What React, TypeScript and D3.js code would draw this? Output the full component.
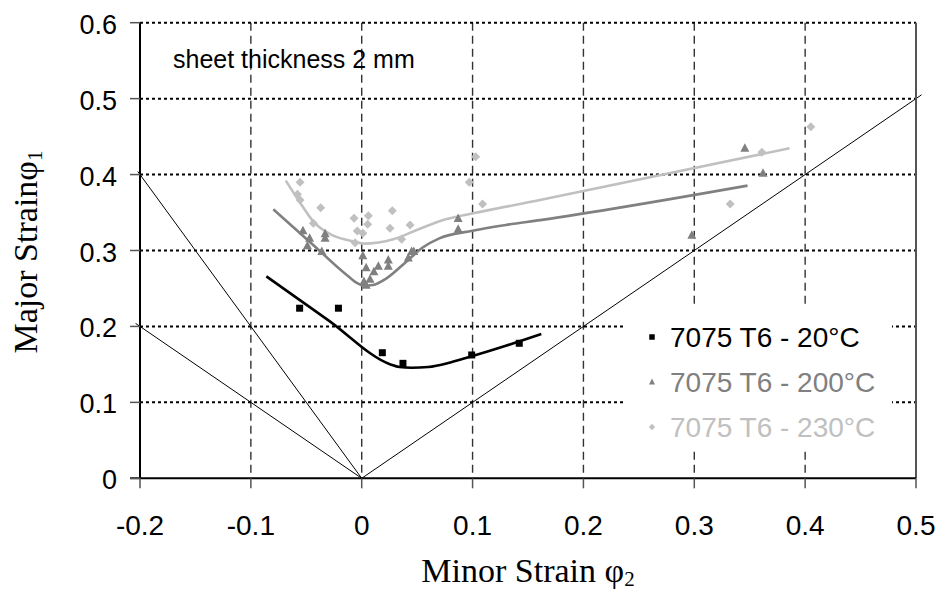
import React from "react";
import * as d3 from "d3";

const xTicks = [-0.2, -0.1, 0, 0.1, 0.2, 0.3, 0.4, 0.5];
const yTicks = [0, 0.1, 0.2, 0.3, 0.4, 0.5, 0.6];
const xTickLabels = ["-0.2", "-0.1", "0", "0.1", "0.2", "0.3", "0.4", "0.5"];
const yTickLabels = ["0", "0.1", "0.2", "0.3", "0.4", "0.5", "0.6"];

const seriesNames = ["7075 T6 - 20°C", "7075 T6 - 200°C", "7075 T6 - 230°C"];

// measured points [minor strain, major strain]
const pts20: [number, number][] = [
  [-0.056, 0.224], [-0.021, 0.224], [0.0186, 0.1654], [0.0372, 0.1514], [0.0992, 0.1624], [0.1421, 0.1778],
];
const pts200: [number, number][] = [
  [-0.053, 0.326], [-0.047, 0.316], [-0.049, 0.306], [-0.033, 0.322], [-0.033, 0.316], [-0.036, 0.2985],
  [0.001, 0.293], [0.004, 0.277], [0.002, 0.259], [0.004, 0.254], [0.0075, 0.262], [0.011, 0.272],
  [0.015, 0.279], [0.024, 0.2875], [0.024, 0.279], [0.042, 0.29], [0.045, 0.2985], [0.047, 0.2985],
  [0.087, 0.342], [0.087, 0.328], [0.2978, 0.32], [0.3456, 0.4346], [0.362, 0.4017],
];
const pts230: [number, number][] = [
  [-0.0556, 0.39], [-0.058, 0.374], [-0.0556, 0.3665], [-0.037, 0.3564], [-0.0436, 0.3358], [-0.0069, 0.3424],
  [-0.004, 0.3257], [0.001, 0.3227], [-0.006, 0.3103], [0.006, 0.3459], [0.0054, 0.3345], [0.0276, 0.3525],
  [0.0255, 0.3292], [0.036, 0.3148], [0.0436, 0.3336], [0.097, 0.3898], [0.1028, 0.4236], [0.109, 0.3613],
  [0.3324, 0.3613], [0.361, 0.4293], [0.4051, 0.463],
];

// forming limit curves
const curve20: [number, number][] = [
  [-0.086, 0.266], [-0.03, 0.208], [0.026, 0.15], [0.034, 0.1465], [0.045, 0.1455], [0.06, 0.1465],
  [0.08, 0.1525], [0.1, 0.161], [0.13, 0.1745], [0.162, 0.19],
];
const curve200: [number, number][] = [
  [-0.0797, 0.3543], [-0.045, 0.309], [-0.0135, 0.2677], [-0.004, 0.257], [0.002, 0.2535], [0.01, 0.2545],
  [0.022, 0.263], [0.04, 0.285], [0.055, 0.304], [0.07, 0.316], [0.1, 0.326], [0.13, 0.3336],
  [0.161, 0.34], [0.348, 0.3854],
];
const curve230: [number, number][] = [
  [-0.0685, 0.392], [-0.0556, 0.363], [-0.0436, 0.338], [-0.0256, 0.3195], [-0.006, 0.3116], [0.002, 0.309],
  [0.0285, 0.3148], [0.0496, 0.327], [0.0766, 0.3415], [0.1006, 0.349], [0.1608, 0.3665], [0.386, 0.4346],
];

// strain path reference lines
const refLines: [number, number][][] = [
  [[0, 0], [0.505, 0.505]],
  [[0, 0], [-0.202, 0.404]],
  [[0, 0], [-0.204, 0.204]],
];

const W = 941;
const H = 592;
const x = d3.scaleLinear().domain([-0.2, 0.5]).range([140, 916]);
const y = d3.scaleLinear().domain([0, 0.6]).range([478.3, 22.7]);

const SANS = "'Liberation Sans', Arial, sans-serif";
const SERIF = "'Liberation Serif', 'Times New Roman', serif";

const sq = (cx: number, cy: number, s: number) =>
  `M${cx - s / 2},${cy - s / 2}h${s}v${s}h${-s}Z`;
const tri = (cx: number, cy: number, w: number, h: number) =>
  `M${cx},${cy - h * 0.6}L${cx + w / 2},${cy + h * 0.4}L${cx - w / 2},${cy + h * 0.4}Z`;
const dia = (cx: number, cy: number, r: number) =>
  `M${cx},${cy - r}L${cx + r},${cy}L${cx},${cy + r}L${cx - r},${cy}Z`;

const line = d3
  .line<[number, number]>()
  .x((d) => x(d[0]))
  .y((d) => y(d[1]))
  .curve(d3.curveMonotoneX);
const straight = d3
  .line<[number, number]>()
  .x((d) => x(d[0]))
  .y((d) => y(d[1]));

export default function App() {
  const x0 = x(-0.2);
  const x1 = x(0.5);
  const y0 = y(0);
  const y1 = y(0.6);
  return (
    <svg
      width={W}
      height={H}
      style={{ position: "absolute", left: 0, top: 0, background: "#fff" }}
    >
      <rect x={0} y={0} width={W} height={H} fill="#fff" />
      {/* vertical dashed gridlines */}
      {xTicks.slice(1, -1).map((t) => (
        <line
          key={"vx" + t}
          x1={x(t)}
          x2={x(t)}
          y1={y1}
          y2={y0}
          stroke="#333"
          strokeWidth={1.4}
          strokeDasharray="8,5"
        />
      ))}
      {/* horizontal dotted gridlines */}
      {yTicks.slice(1).map((t) => (
        <line
          key={"hy" + t}
          x1={x0}
          x2={x1}
          y1={y(t)}
          y2={y(t)}
          stroke="#000"
          strokeWidth={2}
          strokeDasharray="3,3"
        />
      ))}
      {/* reference strain paths */}
      {refLines.map((l, i) => (
        <path key={"ref" + i} d={straight(l) || ""} fill="none" stroke="#000" strokeWidth={1} />
      ))}
      {/* axes */}
      <line x1={x0} x2={x0} y1={y1} y2={y0} stroke="#000" strokeWidth={2} />
      <line x1={x1} x2={x1} y1={y1} y2={y0} stroke="#555" strokeWidth={2} />
      <line x1={x0 - 10} x2={x1} y1={y0} y2={y0} stroke="#000" strokeWidth={2} />
      {yTicks.map((t) => (
        <line key={"yt" + t} x1={x0 - 10} x2={x0} y1={y(t)} y2={y(t)} stroke="#555" strokeWidth={1.5} />
      ))}
      {xTicks.map((t) => (
        <line key={"xt" + t} x1={x(t)} x2={x(t)} y1={y0} y2={y0 + 10} stroke="#555" strokeWidth={1.5} />
      ))}
      {yTicks.map((t, i) => (
        <text
          key={"yl" + t}
          x={117}
          y={y(t) + 11}
          textAnchor="end"
          fontFamily={SANS}
          fontSize={27}
          fill="#000"
        >
          {yTickLabels[i]}
        </text>
      ))}
      {xTicks.map((t, i) => (
        <text
          key={"xl" + t}
          x={x(t)}
          y={535}
          textAnchor="middle"
          fontFamily={SANS}
          fontSize={28}
          fill="#000"
        >
          {xTickLabels[i]}
        </text>
      ))}
      {/* curves */}
      <path d={line(curve230) || ""} fill="none" stroke="#c0c0c0" strokeWidth={2.6} />
      <path d={line(curve200) || ""} fill="none" stroke="#808080" strokeWidth={2.6} />
      <path d={line(curve20) || ""} fill="none" stroke="#000" strokeWidth={2.6} />
      {/* markers */}
      {pts230.map((p, i) => (
        <path key={"d" + i} d={dia(x(p[0]), y(p[1]), 4.5)} fill="#c0c0c0" />
      ))}
      {pts200.map((p, i) => (
        <path key={"t" + i} d={tri(x(p[0]), y(p[1]), 9, 8.5)} fill="#808080" />
      ))}
      {pts20.map((p, i) => (
        <path key={"s" + i} d={sq(x(p[0]), y(p[1]), 7)} fill="#000" />
      ))}
      {/* annotation */}
      <text x={173} y={68} fontFamily={SANS} fontSize={25} fill="#000">
        sheet thickness 2 mm
      </text>
      {/* legend */}
      <rect x={624} y={306} width={268} height={144} fill="#fff" />
      <path d={sq(652, 337, 5.5)} fill="#000" />
      <path d={tri(652, 382, 6, 6)} fill="#808080" />
      <path d={dia(652, 427, 3.2)} fill="#c0c0c0" />
      {seriesNames.map((n, i) => (
        <text
          key={n}
          x={670}
          y={347 + i * 45}
          fontFamily={SANS}
          fontSize={28}
          fill={["#000", "#808080", "#c0c0c0"][i]}
        >
          {n}
        </text>
      ))}
      {/* axis titles */}
      <text x={528} y={582} textAnchor="middle" fontFamily={SERIF} fontSize={34} fill="#000">
        Minor Strain φ
        <tspan fontSize={21} dy={4}>2</tspan>
      </text>
      <text
        transform="translate(37,252) rotate(-90)"
        textAnchor="middle"
        fontFamily={SERIF}
        fontSize={34}
        fill="#000"
      >
        Major Strainφ
        <tspan fontSize={21} dy={5}>1</tspan>
      </text>
    </svg>
  );
}
